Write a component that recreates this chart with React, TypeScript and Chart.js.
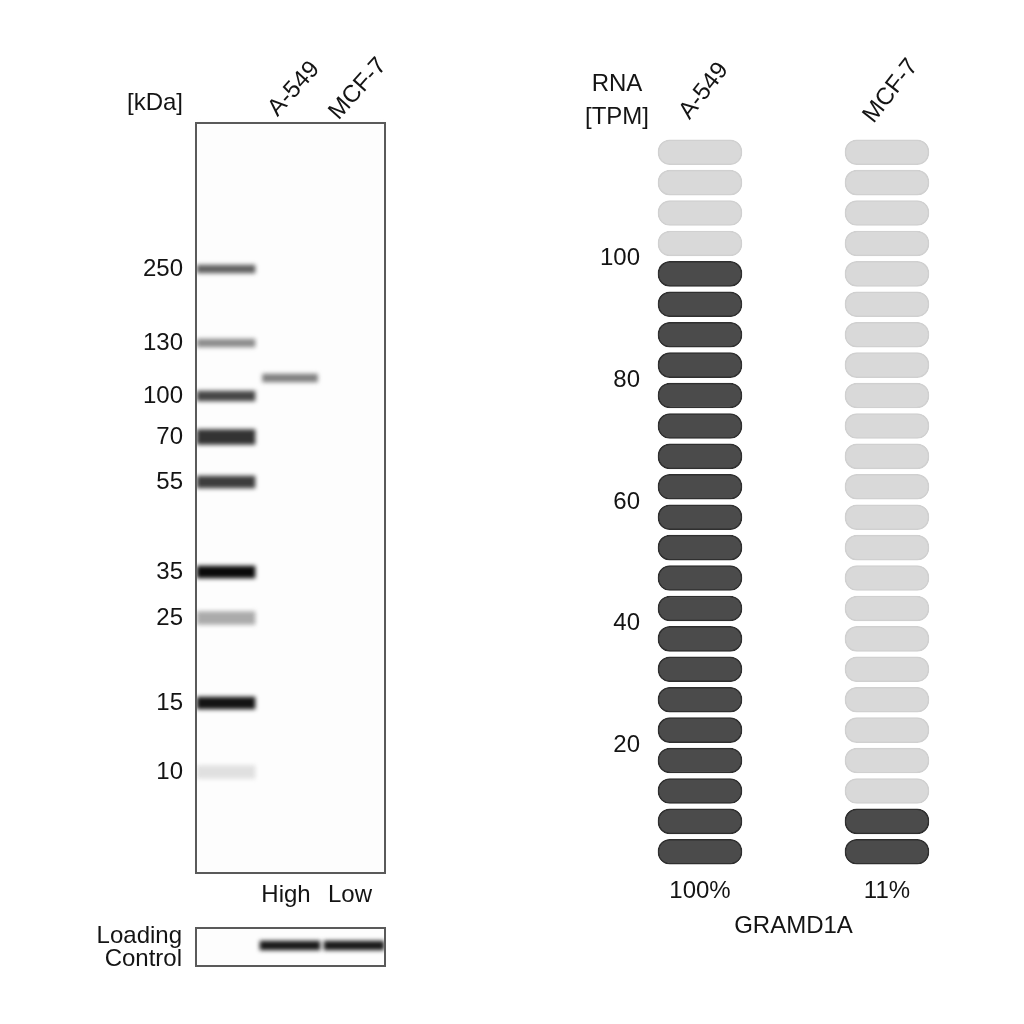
import React, { useEffect, useRef } from "react";
import { Chart, registerables } from "chart.js";
Chart.register(...registerables);

const FONT = "'Liberation Sans', Arial, sans-serif";
const TEXT = "#141414";

// ---------- Western blot data ----------
const markerKDa = ["250", "130", "100", "70", "55", "35", "25", "15", "10"];
const markerMigration = [146, 220, 273, 314, 359, 449, 495, 580, 649];
const markerDarkness = [0.62, 0.45, 0.72, 0.8, 0.76, 0.96, 0.33, 0.92, 0.12];
const markerThickness = [8, 8, 10, 15, 12, 12, 13, 12, 13];
const laneNames = ["A-549", "MCF-7"];
const laneLevels = ["High", "Low"];
const sampleBandLane = [1];
const sampleBandMigration = [255];
const sampleBandDarkness = [0.5];
const sampleBandThickness = [8];
const loadingBandLane = [1, 2];
const loadingBandDarkness = [0.9, 0.9];

// ---------- RNA data ----------
const rnaCells = ["A-549", "MCF-7"];
const rnaTPM = [99.4, 10.9];
const rnaGene = "GRAMD1A";
const rnaTicks = [20, 40, 60, 80, 100];
const rnaPillCount = 24;
const rnaPillStep = 5;

const gray = (d: number) => {
  const v = Math.round(255 * (1 - d));
  return `rgb(${v},${v},${v})`;
};

const blurPlugin = (px: number) => ({
  id: "blurBands",
  beforeDatasetsDraw(chart: any) {
    chart.ctx.save();
    chart.ctx.filter = `blur(${px}px)`;
  },
  afterDatasetsDraw(chart: any) {
    chart.ctx.restore();
  },
});

const framePlugin = {
  id: "frame",
  beforeDatasetsDraw(chart: any) {
    const { ctx, chartArea: a } = chart;
    ctx.save();
    ctx.fillStyle = "#fdfdfd";
    ctx.fillRect(a.left, a.top, a.right - a.left, a.bottom - a.top);
    ctx.restore();
  },
  afterDraw(chart: any) {
    const { ctx, chartArea: a } = chart;
    ctx.save();
    ctx.strokeStyle = "#5a5a5a";
    ctx.lineWidth = 2;
    ctx.strokeRect(a.left, a.top, a.right - a.left, a.bottom - a.top);
    ctx.restore();
  },
};

const blotXScale = {
  type: "linear" as const,
  min: -0.469,
  max: 2.484,
  offset: false,
  display: false,
};

export default function App() {
  const blotRef = useRef<HTMLCanvasElement>(null);
  const loadRef = useRef<HTMLCanvasElement>(null);
  const rnaRef = useRef<HTMLCanvasElement>(null);

  useEffect(() => {
    Chart.defaults.font.family = FONT;
    Chart.defaults.color = TEXT;

    // ---- Blot ----
    const blotLabels = {
      id: "blotLabels",
      afterDraw(chart: any) {
        const { ctx, scales, chartArea: a } = chart;
        const xs = scales.x;
        ctx.save();
        ctx.fillStyle = TEXT;
        ctx.font = `24px ${FONT}`;
        ctx.textAlign = "right";
        ctx.textBaseline = "middle";
        ctx.fillText("[kDa]", 183, 103);
        laneNames.forEach((n, i) => {
          const x = xs.getPixelForValue(i + 1);
          ctx.save();
          ctx.translate(x + 4, 89);
          ctx.rotate((-48 * Math.PI) / 180);
          ctx.textAlign = "center";
          ctx.textBaseline = "middle";
          ctx.fillText(n, 0, 0);
          ctx.restore();
          ctx.textAlign = "center";
          ctx.fillText(laneLevels[i], x - 4, a.bottom + 22);
        });
        ctx.restore();
      },
    };

    const markerData = markerMigration.map((m, i) => ({
      x: 0,
      y: [m - markerThickness[i] / 2, m + markerThickness[i] / 2],
    }));
    const sampleData = sampleBandMigration.map((m, i) => ({
      x: sampleBandLane[i],
      y: [m - sampleBandThickness[i] / 2, m + sampleBandThickness[i] / 2],
    }));

    const blot = new Chart(blotRef.current!, {
      type: "bar",
      data: {
        datasets: [
          {
            data: markerData as any,
            backgroundColor: markerDarkness.map(gray),
            barThickness: 58,
            grouped: false,
          } as any,
          {
            data: sampleData as any,
            backgroundColor: sampleBandDarkness.map(gray),
            barThickness: 55,
            grouped: false,
          } as any,
        ],
      },
      options: {
        animation: false,
        responsive: false,
        events: [],
        layout: { padding: { left: 0, top: 123, right: 127, bottom: 151 } },
        plugins: { legend: { display: false }, tooltip: { enabled: false } },
        scales: {
          x: blotXScale,
          y: {
            type: "linear",
            min: 0,
            max: 750,
            reverse: true,
            afterBuildTicks: (s: any) => {
              s.ticks = markerMigration.map((v) => ({ value: v }));
            },
            afterFit: (s: any) => {
              s.width = 196;
            },
            ticks: {
              autoSkip: false,
              padding: 13,
              color: TEXT,
              font: { size: 24, family: FONT },
              callback: (v: any) => markerKDa[markerMigration.indexOf(Number(v))],
            },
            grid: { display: false, drawTicks: false },
            border: { display: false },
          },
        },
      },
      plugins: [blurPlugin(2), framePlugin, blotLabels],
    } as any);

    // ---- Loading control ----
    const loadLabels = {
      id: "loadLabels",
      afterDraw(chart: any) {
        const { ctx } = chart;
        ctx.save();
        ctx.fillStyle = TEXT;
        ctx.font = `24px ${FONT}`;
        ctx.textAlign = "right";
        ctx.textBaseline = "middle";
        ctx.fillText("Loading", 182, 36);
        ctx.fillText("Control", 182, 59);
        ctx.restore();
      },
    };
    const load = new Chart(loadRef.current!, {
      type: "bar",
      data: {
        datasets: [
          {
            data: loadingBandLane.map((l) => ({ x: l, y: [13, 22] })) as any,
            backgroundColor: loadingBandDarkness.map(gray),
            barThickness: 60,
            grouped: false,
          } as any,
        ],
      },
      options: {
        animation: false,
        responsive: false,
        events: [],
        layout: { padding: { left: 196, top: 28, right: 127, bottom: 34 } },
        plugins: { legend: { display: false }, tooltip: { enabled: false } },
        scales: {
          x: blotXScale,
          y: { type: "linear", min: 0, max: 38, reverse: true, display: false },
        },
      },
      plugins: [blurPlugin(2), framePlugin, loadLabels],
    } as any);

    // ---- RNA ----
    const maxTPM = Math.max(...rnaTPM);
    const darkCount = rnaTPM.map((v) => Math.round(v / rnaPillStep));
    const datasets = Array.from({ length: rnaPillCount }, (_, i) => ({
      data: rnaCells.map((_, c) => ({
        x: c,
        y: [i * rnaPillStep + 0.45, i * rnaPillStep + rnaPillStep - 0.45],
      })),
      backgroundColor: rnaCells.map((_, c) => (i < darkCount[c] ? "#4b4b4b" : "#d9d9d9")),
      borderColor: rnaCells.map((_, c) => (i < darkCount[c] ? "#2f2f2f" : "#d0d0d0")),
      borderWidth: 1.5,
      borderRadius: 12,
      borderSkipped: false,
      barThickness: 84,
      grouped: false,
    }));

    const rnaLabels = {
      id: "rnaLabels",
      afterDraw(chart: any) {
        const { ctx, scales } = chart;
        const xs = scales.x;
        ctx.save();
        ctx.fillStyle = TEXT;
        ctx.font = `24px ${FONT}`;
        ctx.textAlign = "center";
        ctx.textBaseline = "middle";
        ctx.fillText("RNA", 105, 84);
        ctx.fillText("[TPM]", 105, 117);
        rnaCells.forEach((n, c) => {
          const x = xs.getPixelForValue(c);
          ctx.save();
          ctx.translate(x + 4, 91);
          ctx.rotate((-52 * Math.PI) / 180);
          ctx.fillText(n, 0, 0);
          ctx.restore();
          const pct = Math.round((rnaTPM[c] / maxTPM) * 100) + "%";
          ctx.fillText(pct, x, 891);
        });
        ctx.fillText(rnaGene, xs.getPixelForValue(0.5), 926);
        ctx.restore();
      },
    };

    const rna = new Chart(rnaRef.current!, {
      type: "bar",
      data: { datasets: datasets as any },
      options: {
        animation: false,
        responsive: false,
        events: [],
        layout: { padding: { left: 0, top: 137, right: 14, bottom: 157 } },
        plugins: { legend: { display: false }, tooltip: { enabled: false } },
        scales: {
          x: { type: "linear", min: -0.278, max: 1.658, offset: false, display: false },
          y: {
            type: "linear",
            min: 0,
            max: rnaPillCount * rnaPillStep,
            afterBuildTicks: (s: any) => {
              s.ticks = rnaTicks.map((v) => ({ value: v }));
            },
            afterFit: (s: any) => {
              s.width = 136;
            },
            ticks: {
              autoSkip: false,
              padding: 8,
              color: TEXT,
              font: { size: 24, family: FONT },
            },
            grid: { display: false, drawTicks: false },
            border: { display: false },
          },
        },
      },
      plugins: [rnaLabels],
    } as any);

    return () => {
      blot.destroy();
      load.destroy();
      rna.destroy();
    };
  }, []);

  return (
    <div
      style={{
        position: "fixed",
        left: 0,
        top: 0,
        width: 1024,
        height: 1024,
        background: "#ffffff",
        overflow: "hidden",
      }}
    >
      <canvas
        ref={blotRef}
        width={512}
        height={1024}
        style={{ position: "absolute", left: 0, top: 0, width: 512, height: 1024 }}
      />
      <canvas
        ref={loadRef}
        width={512}
        height={100}
        style={{ position: "absolute", left: 0, top: 900, width: 512, height: 100 }}
      />
      <canvas
        ref={rnaRef}
        width={512}
        height={1024}
        style={{ position: "absolute", left: 512, top: 0, width: 512, height: 1024 }}
      />
    </div>
  );
}
